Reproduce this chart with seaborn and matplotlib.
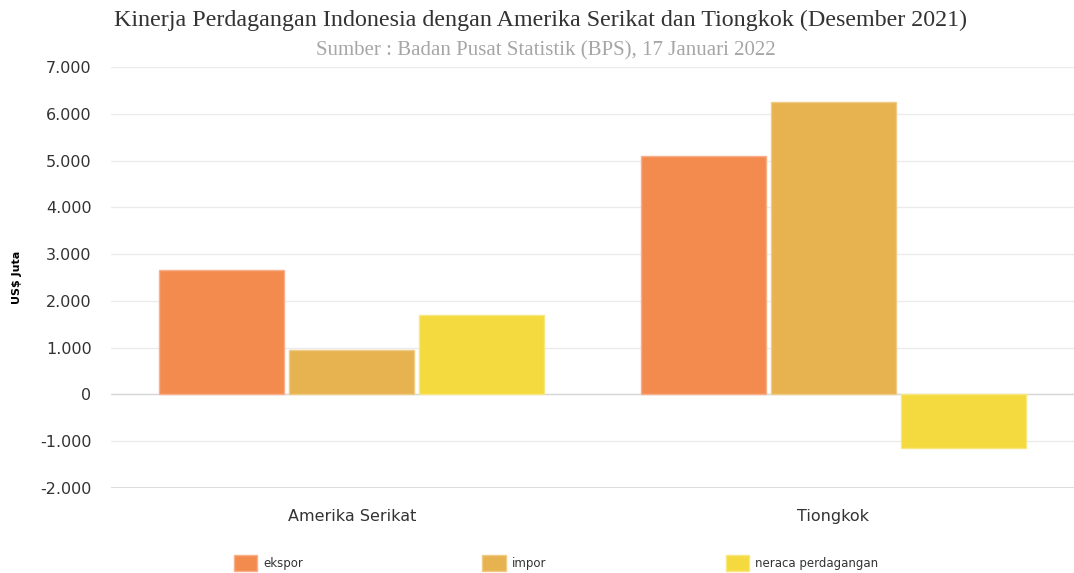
import matplotlib
matplotlib.use("Agg")
import matplotlib.pyplot as plt
import matplotlib.ticker as mticker
from matplotlib.patches import Patch
import seaborn as sns
import pandas as pd

categories = ["Amerika Serikat", "Tiongkok"]
series_names = ["ekspor", "impor", "neraca perdagangan"]
ekspor = [2653, 5107]
impor = [945, 6246]
neraca = [1708, -1139]
colors = ["#F38B4F", "#E6B350", "#F4DA3E"]
edge_colors = ["#F7B08A", "#EFCB85", "#F8E780"]
y_ticks = [-2000, -1000, 0, 1000, 2000, 3000, 4000, 5000, 6000, 7000]

title = "Kinerja Perdagangan Indonesia dengan Amerika Serikat dan Tiongkok (Desember 2021)"
subtitle = "Sumber : Badan Pusat Statistik (BPS), 17 Januari 2022"
ylabel = "US$ Juta"

rows = []
for name, vals in zip(series_names, [ekspor, impor, neraca]):
    for c, v in zip(categories, vals):
        rows.append({"kategori": c, "seri": name, "nilai": v})
df = pd.DataFrame(rows)

sns.set_theme(style="white")
plt.rcParams["font.family"] = ["DejaVu Sans"]

fig = plt.figure(figsize=(10.74, 5.73), dpi=100)
ax = fig.add_axes([111 / 1074, 1 - 488 / 573, (1074 - 111) / 1074, (488 - 67) / 573])

sns.barplot(data=df, x="kategori", y="nilai", hue="seri", order=categories,
            hue_order=series_names, palette=colors, width=0.81, ax=ax,
            legend=False, errorbar=None, saturation=1)

# style bars: slight lighter edge and small gap
for i, container in enumerate(ax.containers):
    for p in container:
        w = p.get_width()
        nw = w * 0.96
        p.set_x(p.get_x() + (w - nw) / 2)
        p.set_width(nw)
        p.set_edgecolor(edge_colors[i])
        p.set_linewidth(1.0)
        p.set_zorder(3)

ax.set_ylim(-2000, 7000)
ax.set_xlim(-0.5, 1.5)
ax.set_yticks(y_ticks)
ax.yaxis.set_major_formatter(mticker.FuncFormatter(lambda v, pos: f"{int(v):,}".replace(",", ".")))
ax.grid(axis="y", color="#EBEBEB", linewidth=1, zorder=0)
ax.axhline(0, color="#D8D8D8", linewidth=1, zorder=1)
ax.axhline(-2000, color="#D8D8D8", linewidth=1.2, zorder=1)
for s in ax.spines.values():
    s.set_visible(False)
ax.tick_params(axis="y", length=0, pad=14, labelsize=11.5, labelcolor="#333333")
ax.tick_params(axis="x", length=0, pad=15, labelsize=11.5, labelcolor="#333333")
ax.set_xlabel("")
ax.set_ylabel(ylabel, fontsize=8, fontweight="bold", color="#000000")
ax.yaxis.set_label_coords(-89 / 963, 0.5)

fig.text(541 / 1074, 1 - 20 / 573, title, ha="center", va="center",
         fontsize=17.3, family="Liberation Serif", color="#333333")
fig.text(546 / 1074, 1 - 51 / 573, subtitle, ha="center", va="center",
         fontsize=15, family="Liberation Serif", color="#A6A6A6")

handles = [Patch(facecolor=c, edgecolor=e, linewidth=1) for c, e in zip(colors, edge_colors)]
fig.legend(handles, series_names, loc="center", bbox_to_anchor=(556 / 1074, 1 - 563 / 573),
           ncol=3, frameon=False, fontsize=8.5, handlelength=2.0, handleheight=1.8,
           handletextpad=0.5, columnspacing=15.2, labelcolor="#333333")

fig.savefig("out.png", dpi=100)
